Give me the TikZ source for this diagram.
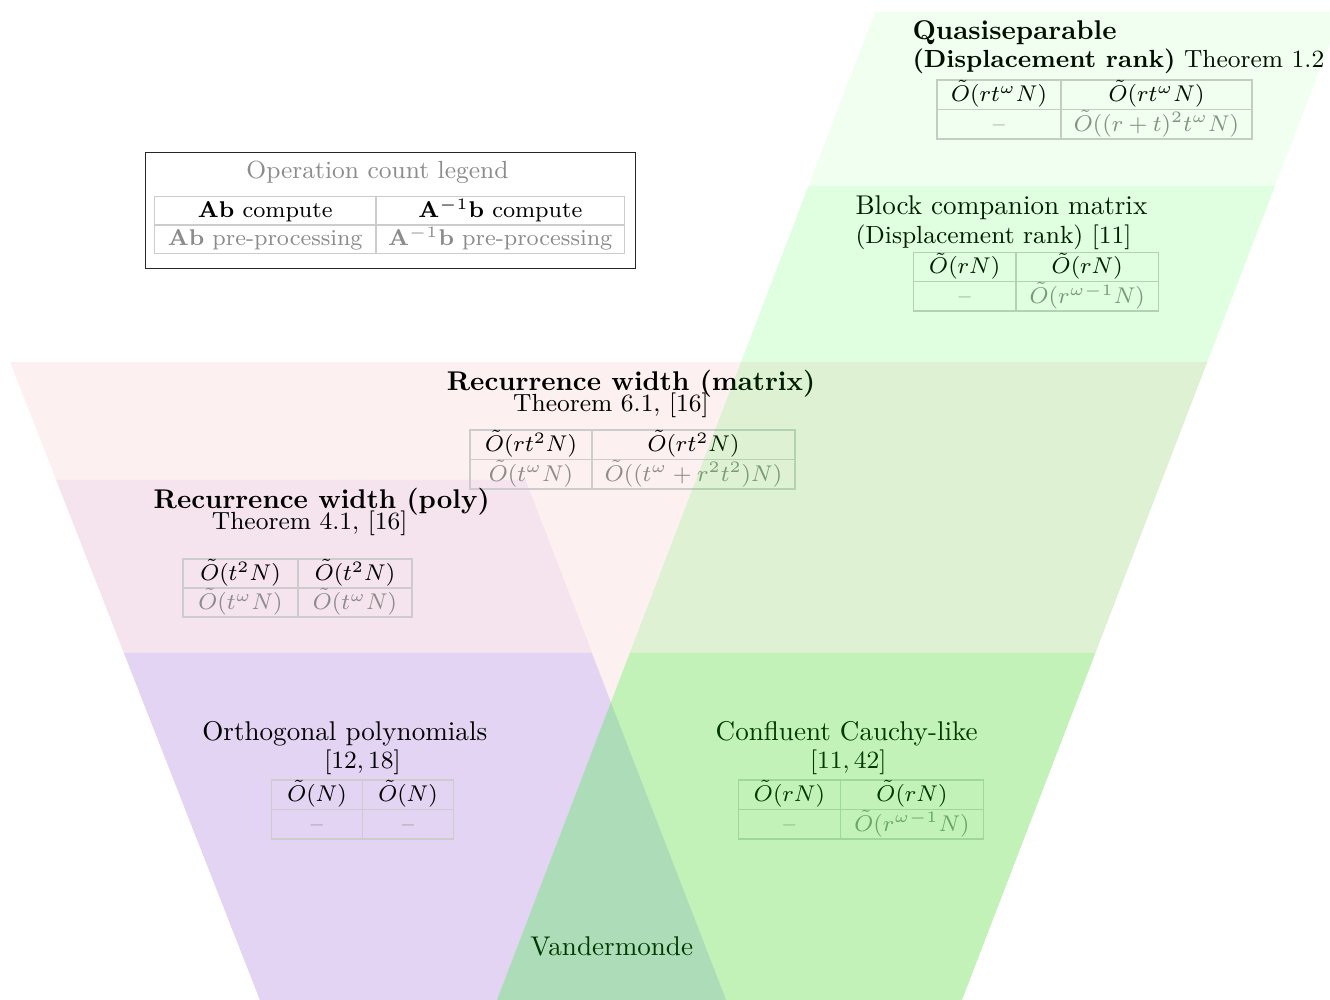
\RequirePackage{fix-cm}
\documentclass[tikz,border=0pt]{standalone}
\definecolor{matrixpink}{HTML}{FDF0F0}
\definecolor{polypink}{HTML}{F5E4EE}
\definecolor{orthlav}{HTML}{E2D4F2}
\tikzset{
  ttl/.style={inner sep=0pt, font=\fontsize{10}{12}\selectfont},
  sub/.style={inner sep=0pt, font=\fontsize{9.15}{11}\selectfont},
  cell/.style={draw=gray!40, line width=0.4pt, inner sep=0pt, text height=7.8pt, text depth=2.8pt, font=\fontsize{8.4}{10}\selectfont},
  gcell/.style={cell, text=black!45},
  cw/.style={minimum width=#1*0.369pt},
  rh/.style={minimum height=#1*0.369pt},
  greenlayer/.style={fill=green, fill opacity=#1, draw=none},
}
\begin{document}
\begin{tikzpicture}[x=0.369pt,y=-0.369pt]
\useasboundingbox (0,0) rectangle (1330,1000);
\clip (0,0) rectangle (1330,1000);
% left band (opaque)
\fill[matrixpink] (10,362) -- (1207.3,362) -- (962,1000) -- (260,1000) -- cycle;
\fill[polypink] (56.2,480) -- (525.5,480) -- (726,1000) -- (260,1000) -- cycle;
\fill[orthlav] (124,653) -- (591.5,653) -- (726,1000) -- (260,1000) -- cycle;

% legend
\node[draw=black!85, line width=0.35pt, cw=490, rh=116, inner sep=0pt] (legend) at (390,210) {};
\node[sub, text=black!45, anchor=base] (legtitle) at (377.5,178.3) {Operation count legend};
\node[cell, cw=221.5, rh=28] (la) at (265.25,211) {\textbf{Ab} compute};
\node[cell, cw=248.5, rh=28] (lb) at (500.25,211) {$\mathbf{A}^{-1}\mathbf{b}$ compute};
\node[gcell, cw=221.5, rh=28] (lc) at (265.25,239) {\textbf{Ab} pre-processing};
\node[gcell, cw=248.5, rh=28] (ld) at (500.25,239) {$\mathbf{A}^{-1}\mathbf{b}$ pre-processing};

% quasiseparable
\node[ttl, anchor=base west] (qt1) at (912,39.5) {\textbf{Quasiseparable}};
\node[sub, anchor=base west] (qt2) at (912,68) {\textbf{(Displacement rank)} Theorem 1.2};
\node[cell, cw=124, rh=29.5] (qa) at (999,94.75) {$\tilde{O}(rt^{\omega}N)$};
\node[cell, cw=191, rh=29.5] (qb) at (1156.5,94.75) {$\tilde{O}(rt^{\omega}N)$};
\node[gcell, cw=124, rh=29.5] (qc) at (999,124.25) {--};
\node[gcell, cw=191, rh=29.5] (qd) at (1156.5,124.25) {$\tilde{O}((r+t)^2t^{\omega}N)$};

% block companion
\node[ttl, anchor=base west] (bt1) at (855,215) {Block companion matrix};
\node[sub, anchor=base west] (bt2) at (855,243.3) {(Displacement rank) [11]};
\node[cell, cw=102.5, rh=29.25] (ba) at (964.75,267.1) {$\tilde{O}(rN)$};
\node[cell, cw=142.5, rh=29.25] (bb) at (1087.25,267.1) {$\tilde{O}(rN)$};
\node[gcell, cw=102.5, rh=29.25] (bc) at (964.75,296.4) {--};
\node[gcell, cw=142.5, rh=29.25] (bd) at (1087.25,296.4) {$\tilde{O}(r^{\omega-1}N)$};

% recurrence width (matrix)
\node[ttl, anchor=base] (mt1) at (631,391) {\textbf{Recurrence width (matrix)}};
\node[sub, anchor=base] (mt2) at (611,411.7) {Theorem 6.1, [16]};
\node[cell, cw=122, rh=29.5] (ma) at (531,444.75) {$\tilde{O}(rt^2N)$};
\node[cell, cw=203, rh=29.5] (mb) at (693.5,444.75) {$\tilde{O}(rt^2N)$};
\node[gcell, cw=122, rh=29.5] (mc) at (531,474.25) {$\tilde{O}(t^{\omega}N)$};
\node[gcell, cw=203, rh=29.5] (md) at (693.5,474.25) {$\tilde{O}((t^{\omega}+r^2t^2)N)$};

% recurrence width (poly)
\node[ttl, anchor=base] (pt1) at (321.7,509) {\textbf{Recurrence width (poly)}};
\node[sub, anchor=base] (pt2) at (309.7,530) {Theorem 4.1, [16]};
\node[cell, cw=115, rh=29] (pa) at (240.5,573.5) {$\tilde{O}(t^2N)$};
\node[cell, cw=114, rh=29] (pb) at (355,573.5) {$\tilde{O}(t^2N)$};
\node[gcell, cw=115, rh=29] (pc) at (240.5,602.5) {$\tilde{O}(t^{\omega}N)$};
\node[gcell, cw=114, rh=29] (pd) at (355,602.5) {$\tilde{O}(t^{\omega}N)$};

% orthogonal polynomials
\node[ttl, anchor=base] (ot1) at (344.8,740.7) {Orthogonal polynomials};
\node[sub, anchor=base] (ot2) at (362.5,768.3) {$[12,18]$};
\node[cell, cw=91, rh=29.5] (oa) at (317,794.75) {$\tilde{O}(N)$};
\node[cell, cw=91, rh=29.5] (ob) at (408,794.75) {$\tilde{O}(N)$};
\node[gcell, cw=91, rh=29.5] (oc) at (317,824.25) {--};
\node[gcell, cw=91, rh=29.5] (od) at (408,824.25) {--};

% confluent Cauchy-like
\node[ttl, anchor=base] (ct1) at (846.7,740.7) {Confluent Cauchy-like};
\node[sub, anchor=base] (ct2) at (848.3,768.3) {$[11,42]$};
\node[cell, cw=102, rh=29.5] (ca) at (789.5,794.75) {$\tilde{O}(rN)$};
\node[cell, cw=143, rh=29.5] (cb) at (912,794.75) {$\tilde{O}(rN)$};
\node[gcell, cw=102, rh=29.5] (cc) at (789.5,824.25) {--};
\node[gcell, cw=143, rh=29.5] (cd) at (912,824.25) {$\tilde{O}(r^{\omega-1}N)$};

% Vandermonde
\node[ttl, anchor=base] (vt) at (611.7,955) {Vandermonde};

% right band (translucent green, over the text)
\fill[greenlayer=0.06] (875,12) -- (1341.9,12) -- (962,1000) -- (497,1000) -- cycle;
\fill[greenlayer=0.066] (808.4,186) -- (1275,186) -- (962,1000) -- (497,1000) -- cycle;
\fill[greenlayer=0.12] (629.8,653) -- (1095.4,653) -- (962,1000) -- (497,1000) -- cycle;
\end{tikzpicture}
\end{document}
